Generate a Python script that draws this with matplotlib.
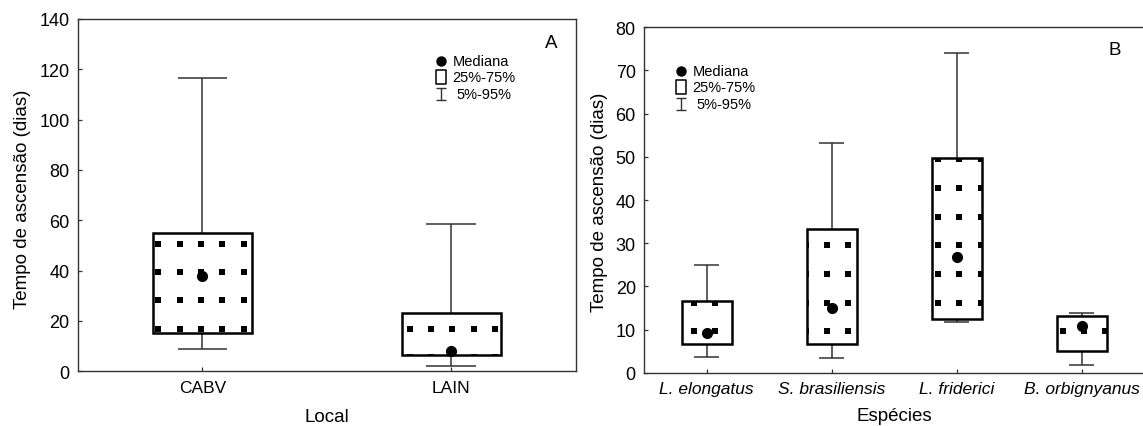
import matplotlib
matplotlib.use("Agg")
import matplotlib.pyplot as plt
import numpy as np
from matplotlib.patches import Rectangle
from matplotlib.path import Path
from matplotlib.transforms import IdentityTransform

plt.rcParams['font.family'] = ['Liberation Sans', 'DejaVu Sans']

# ---------------- data ----------------
A_categories = ['CABV', 'LAIN']
A_p5 = [8.9, 2.2]
A_q1 = [15.2, 6.5]
A_median = [38.0, 8.2]
A_q3 = [54.8, 23.3]
A_p95 = [116.7, 58.7]

B_categories = ['L. elongatus', 'S. brasiliensis', 'L. friderici', 'B. orbignyanus']
B_p5 = [3.7, 3.4, 11.8, 1.8]
B_q1 = [6.6, 6.7, 12.4, 5.1]
B_median = [9.1, 15.0, 26.8, 10.8]
B_q3 = [16.7, 33.4, 49.7, 13.2]
B_p95 = [25.0, 53.3, 74.0, 13.8]

A_yticks = list(range(0, 141, 20))
B_yticks = list(range(0, 81, 10))

legend_labels = ['Mediana', '25%-75%', '5%-95%']

# ---------------- style ----------------
FIG_W, FIG_H, DPI = 1143, 427, 100
WHISK = '#333333'
SPINE = '#333333'

fig = plt.figure(figsize=(FIG_W / DPI, FIG_H / DPI), dpi=DPI)
axA = fig.add_axes([78 / FIG_W, (FIG_H - 372.3) / FIG_H, 497.7 / FIG_W, 352.3 / FIG_H])
axB = fig.add_axes([644.2 / FIG_W, (FIG_H - 373.8) / FIG_H, 499.8 / FIG_W, 345.5 / FIG_H])

rect_marker = Path([(-0.42, -0.5), (0.42, -0.5), (0.42, 0.5), (-0.42, 0.5), (-0.42, -0.5)],
                   [Path.MOVETO, Path.LINETO, Path.LINETO, Path.LINETO, Path.CLOSEPOLY])
box_icon = Path([(-0.38, -0.5), (0.38, -0.5), (0.38, 0.5), (-0.38, 0.5), (-0.38, -0.5)],
                [Path.MOVETO, Path.LINETO, Path.LINETO, Path.LINETO, Path.CLOSEPOLY])
whisk_icon = Path([(-0.42, -0.5), (0.42, -0.5), (0, -0.5), (0, 0.5), (-0.42, 0.5), (0.42, 0.5)],
                  [Path.MOVETO, Path.LINETO, Path.MOVETO, Path.LINETO, Path.MOVETO, Path.LINETO])


def draw_panel(ax, cats, p5, q1, med, q3, p95, yticks, phases,
               row_anchor_px, row_step_px, col_step_px, italic=False):
    n = len(cats)
    xs = np.arange(1, n + 1)
    ax.set_xlim(0.5, n + 0.5)
    ax.set_ylim(yticks[0], yticks[-1])
    width, cap = 0.4, 0.2
    for xi, lo, a, m, b, hi, ph in zip(xs, p5, q1, med, q3, p95, phases):
        ax.vlines(xi, b, hi, color=WHISK, lw=1.1, zorder=1)
        ax.vlines(xi, lo, a, color=WHISK, lw=1.1, zorder=1)
        ax.hlines([lo, hi], xi - cap / 2, xi + cap / 2, color=WHISK, lw=1.1, zorder=1)
        box = Rectangle((xi - width / 2, a), width, b - a, facecolor='white',
                        edgecolor='none', zorder=2)
        ax.add_patch(box)
        # dotted fill pattern (display-pixel grid, clipped to the box)
        (dx0, dy0), (dx1, dy1) = ax.transData.transform([(xi - width / 2, a), (xi + width / 2, b)])
        cx = ax.transData.transform((xi, 0))[0] + ph
        cols = cx + col_step_px * np.arange(-5, 6)
        cols = cols[(cols > dx0 - 4) & (cols < dx1 + 4)]
        rows = (FIG_H - row_anchor_px) + row_step_px * np.arange(-3, 20)
        rows = rows[(rows > dy0 - 4) & (rows < dy1 + 4)]
        if len(cols) and len(rows):
            XX, YY = np.meshgrid(cols, rows)
            sc = ax.scatter(XX.ravel(), YY.ravel(), transform=IdentityTransform(),
                            marker=rect_marker, s=24, c='black', linewidths=0, zorder=3)
            sc.set_clip_path(box)
        ax.add_patch(Rectangle((xi - width / 2, a), width, b - a, facecolor='none',
                               edgecolor='black', lw=1.8, zorder=4))
        ax.plot(xi, m, 'o', ms=7, color='black', zorder=5)

    ax.set_xticks(xs)
    ax.set_xticklabels(cats, fontsize=12.5, style='italic' if italic else 'normal')
    ax.set_yticks(yticks)
    ax.set_yticklabels([str(t) for t in yticks], fontsize=13)
    ax.tick_params(direction='in', length=3, width=0.9, color=SPINE, pad=6,
                   top=False, right=False)
    for s in ax.spines.values():
        s.set_color(SPINE)
        s.set_linewidth(1.0)


def draw_legend(ax, x_icon, x_text, x_text3, ys):
    ax.plot(x_icon, ys[0], 'o', ms=6.5, color='black', transform=ax.transAxes, clip_on=False)
    ax.plot(x_icon, ys[1], marker=box_icon, ms=9.5, mfc='white', mec='black', mew=1.1,
            transform=ax.transAxes, clip_on=False, ls='none')
    ax.plot(x_icon, ys[2], marker=whisk_icon, ms=8.6, mfc='none', mec=WHISK, mew=1.0,
            transform=ax.transAxes, clip_on=False, ls='none')
    ax.text(x_text, ys[0], legend_labels[0], fontsize=10.5, va='center', ha='left', transform=ax.transAxes)
    ax.text(x_text, ys[1], legend_labels[1], fontsize=10.5, va='center', ha='left', transform=ax.transAxes)
    ax.text(x_text3, ys[2], legend_labels[2], fontsize=10.5, va='center', ha='left', transform=ax.transAxes)


draw_panel(axA, A_categories, A_p5, A_q1, A_median, A_q3, A_p95, A_yticks,
           phases=[-1.5, 1.0], row_anchor_px=329.5, row_step_px=28.1, col_step_px=21.3)
draw_panel(axB, B_categories, B_p5, B_q1, B_median, B_q3, B_p95, B_yticks,
           phases=[8.2, -4.4, 2.9, 2.6], row_anchor_px=332.3, row_step_px=28.7,
           col_step_px=21.2, italic=True)

for ax, xl, xy, yx, yy in [(axA, 'Local', -0.1297, -0.1115, 0.49),
                           (axB, 'Espécies', -0.125, -0.0904, 0.497)]:
    ax.set_xlabel(xl, fontsize=13.5, va='center')
    ax.xaxis.set_label_coords(0.5, xy)
    ax.set_ylabel('Tempo de ascensão (dias)', fontsize=13.5, va='center')
    ax.yaxis.set_label_coords(yx, yy)

axA.text(0.9504, 0.9333, 'A', fontsize=13.5, ha='center', va='center', transform=axA.transAxes)
axB.text(0.941, 0.9352, 'B', fontsize=13.5, ha='center', va='center', transform=axB.transAxes)

draw_legend(axA, 0.7288, 0.752, 0.7595, [0.8816, 0.8345, 0.7871])
draw_legend(axB, 0.073, 0.0962, 0.105, [0.8744, 0.8272, 0.7789])

fig.savefig('out.png', dpi=DPI)
